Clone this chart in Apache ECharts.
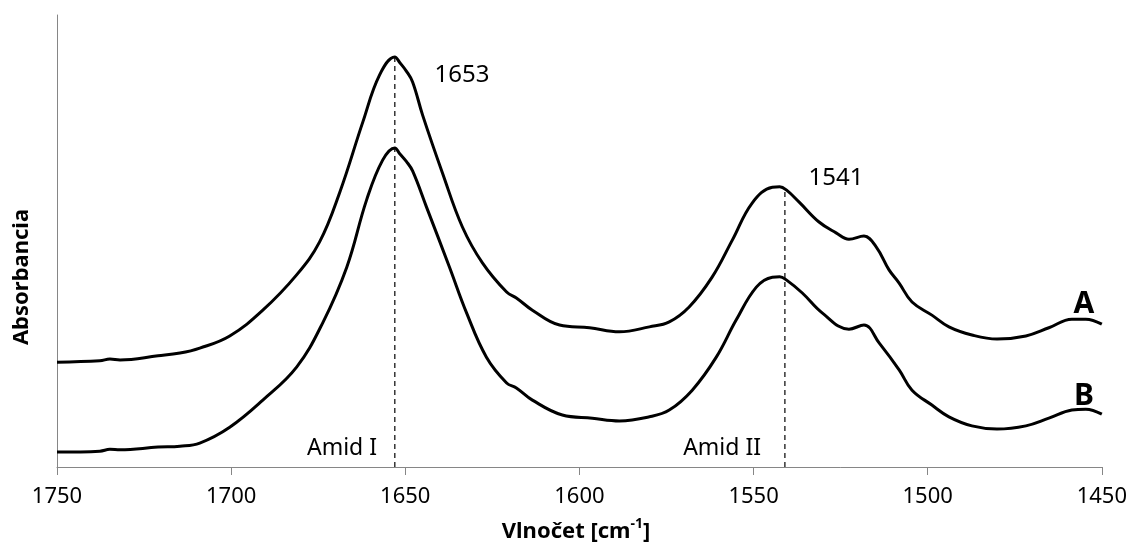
<!DOCTYPE html>
<html>
<head>
<meta charset="utf-8">
<script src="https://cdn.jsdelivr.net/npm/echarts@6/dist/echarts.min.js"></script>
<style>
  html, body { margin: 0; padding: 0; background: #fff; }
  #chart { width: 1130px; height: 554px; }
</style>
</head>
<body>
<div id="chart"></div>
<script>
// IR spectra of the two samples (A above, B below), amide band region
const waveA = [1750, 1737.7, 1734.8, 1731.9, 1721, 1714.7, 1709, 1700.4, 1690.9, 1681.2,
  1674.6, 1668.8, 1662.2, 1657.4, 1653, 1651.6, 1649.7, 1647.9, 1645, 1639.3, 1633.6,
  1627.8, 1620.9, 1618.1, 1613.5, 1605.7, 1597.1, 1588.5, 1579.9, 1574.2, 1568.5,
  1561.9, 1556.1, 1550.4, 1544.6, 1542.5, 1540.6, 1536.9, 1531.2, 1526.3, 1522.6,
  1518.3, 1514.8, 1511.1, 1508.2, 1504.5, 1498.8, 1493.9, 1487.3, 1480.1, 1471.8,
  1465.2, 1458.6, 1454.6, 1450];
const absA = [0.232, 0.235, 0.239, 0.237, 0.246, 0.252, 0.263, 0.290, 0.347, 0.425,
  0.498, 0.608, 0.763, 0.867, 0.907, 0.895, 0.876, 0.852, 0.778, 0.650, 0.531,
  0.451, 0.387, 0.374, 0.347, 0.314, 0.308, 0.299, 0.310, 0.321, 0.354,
  0.420, 0.502, 0.584, 0.619, 0.620, 0.613, 0.586, 0.542, 0.518, 0.504,
  0.511, 0.487, 0.436, 0.407, 0.365, 0.336, 0.310, 0.292, 0.283, 0.290,
  0.308, 0.327, 0.327, 0.316];

const waveB = [1750, 1737.7, 1734.8, 1731.9, 1721, 1714.7, 1709, 1700.4, 1690.9, 1681.2,
  1673.7, 1666.8, 1661.1, 1656.5, 1653, 1651.6, 1649.7, 1647.9, 1643.9, 1637.3, 1632.4,
  1626.7, 1620.9, 1618.1, 1613.5, 1604.9, 1596.3, 1588.5, 1579.9, 1574.2, 1567.6,
  1560.7, 1555, 1549.2, 1544.6, 1542.5, 1540.6, 1536, 1530.3, 1522.6, 1518.3,
  1513.9, 1508.2, 1504.5, 1498.8, 1493.9, 1487.3, 1480.1, 1471.8, 1465.2, 1458.6,
  1454.6, 1450];
const absB = [0.033, 0.035, 0.039, 0.038, 0.044, 0.046, 0.053, 0.088, 0.148, 0.221,
  0.319, 0.442, 0.591, 0.679, 0.706, 0.693, 0.676, 0.655, 0.575, 0.442, 0.341,
  0.243, 0.186, 0.175, 0.148, 0.115, 0.108, 0.102, 0.111, 0.126, 0.170,
  0.243, 0.325, 0.398, 0.420, 0.421, 0.414, 0.385, 0.341, 0.305, 0.314,
  0.274, 0.215, 0.170, 0.137, 0.111, 0.091, 0.084, 0.091, 0.108, 0.126,
  0.128, 0.117];

// band maxima marked with dashed drop lines
const peakPositions = [1653, 1541];
const peakLabels = ['1653', '1541'];
const bandNames = ['Amid I', 'Amid II'];
const seriesNames = ['A', 'B'];

// x-axis range and tick step (wavenumber, cm-1)
const xMin = 1450, xMax = 1750, xStep = 50;

const FONT = '"Noto Sans", "Open Sans", sans-serif';

function pairs(xs, ys) { return xs.map((x, i) => [x, ys[i]]); }

// absorbance of a spectrum at a given wavenumber (linear between samples)
function valueAt(xs, ys, w) {
  for (let i = 0; i < xs.length - 1; i++) {
    const a = xs[i], b = xs[i + 1];
    if ((w <= a && w >= b) || (w >= a && w <= b)) {
      const t = (w - a) / (b - a);
      return ys[i] + t * (ys[i + 1] - ys[i]);
    }
  }
  return 0;
}

const chart = echarts.init(document.getElementById('chart'), null, { renderer: 'canvas' });

const spectrumStyle = { color: '#000', width: 3 };
const dropStyle = { color: '#000', width: 1.2, type: [5, 4] };

const dropSeries = peakPositions.map(p => ({
  type: 'line',
  data: [[p, 0], [p, valueAt(waveA, absA, p)]],
  symbol: 'none',
  lineStyle: dropStyle,
  silent: true,
  z: 1
}));

chart.setOption({
  animation: false,
  backgroundColor: '#fff',
  grid: { left: 57, right: 28, top: 15, bottom: 87 },
  xAxis: {
    type: 'value',
    inverse: true,
    min: xMin,
    max: xMax,
    interval: xStep,
    axisLine: { lineStyle: { color: '#868686', width: 1 } },
    axisTick: { show: true, length: 8, lineStyle: { color: '#868686' } },
    axisLabel: {
      color: '#000', fontSize: 22, fontFamily: FONT, margin: 19,
      formatter: v => String(v)
    },
    splitLine: { show: false }
  },
  yAxis: {
    type: 'value',
    min: 0,
    max: 1,
    axisLine: { show: true, lineStyle: { color: '#868686', width: 1 } },
    axisTick: { show: false },
    axisLabel: { show: false },
    splitLine: { show: false }
  },
  series: [
    {
      name: seriesNames[0],
      type: 'line',
      data: pairs(waveA, absA),
      smooth: 0.4,
      symbol: 'none',
      lineStyle: spectrumStyle,
      z: 3
    },
    {
      name: seriesNames[1],
      type: 'line',
      data: pairs(waveB, absB),
      smooth: 0.4,
      symbol: 'none',
      lineStyle: spectrumStyle,
      z: 3
    }
  ].concat(dropSeries),
  graphic: [
    {
      type: 'text', x: 22, y: 277, rotation: Math.PI / 2,
      style: {
        text: 'Absorbancia', fill: '#000', font: 'bold 22px ' + FONT,
        textAlign: 'center', textVerticalAlign: 'middle'
      }
    },
    {
      type: 'text', x: 576, y: 530,
      style: {
        text: '{m|Vlnočet [cm}{s|-1}{m|]}',
        textAlign: 'center', textVerticalAlign: 'middle',
        rich: {
          m: { fontSize: 22, fontWeight: 'bold', fontFamily: FONT, fill: '#000', lineHeight: 25, verticalAlign: 'bottom' },
          s: { fontSize: 14, fontWeight: 'bold', fontFamily: FONT, fill: '#000', lineHeight: 25, verticalAlign: 'top' }
        }
      }
    },
    {
      type: 'text', x: 462, y: 75,
      style: { text: peakLabels[0], fill: '#000', font: '24px ' + FONT, textAlign: 'center', textVerticalAlign: 'middle' }
    },
    {
      type: 'text', x: 836, y: 178,
      style: { text: peakLabels[1], fill: '#000', font: '24px ' + FONT, textAlign: 'center', textVerticalAlign: 'middle' }
    },
    {
      type: 'text', x: 377, y: 448,
      style: { text: bandNames[0], fill: '#000', font: '23px ' + FONT, textAlign: 'right', textVerticalAlign: 'middle' }
    },
    {
      type: 'text', x: 761, y: 448,
      style: { text: bandNames[1], fill: '#000', font: '23px ' + FONT, textAlign: 'right', textVerticalAlign: 'middle' }
    },
    {
      type: 'text', x: 1084, y: 304,
      style: { text: seriesNames[0], fill: '#000', font: 'bold 30px ' + FONT, textAlign: 'center', textVerticalAlign: 'middle' }
    },
    {
      type: 'text', x: 1084, y: 396,
      style: { text: seriesNames[1], fill: '#000', font: 'bold 30px ' + FONT, textAlign: 'center', textVerticalAlign: 'middle' }
    }
  ]
});
</script>
</body>
</html>
